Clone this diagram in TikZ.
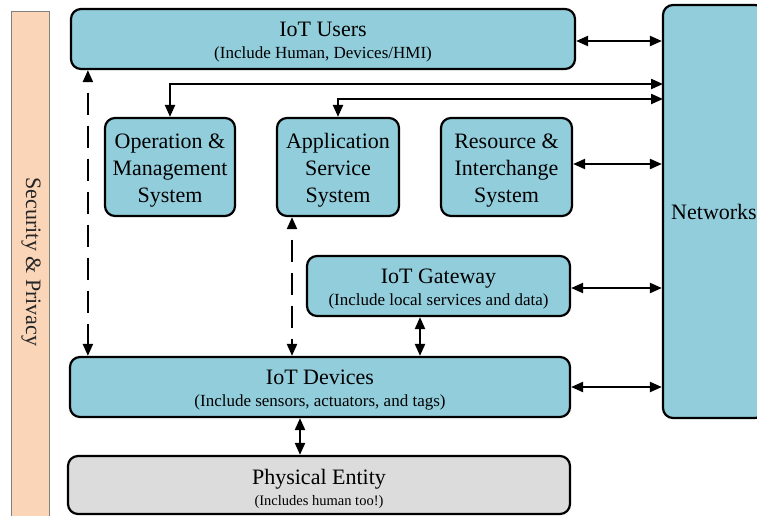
\documentclass[tikz,border=0pt]{standalone}
\usepackage{fontspec}
\setmainfont{Liberation Serif}
\usetikzlibrary{arrows.meta}
\definecolor{boxblue}{HTML}{92CDDC}
\definecolor{entitygray}{HTML}{DCDCDC}
\definecolor{secfill}{HTML}{FBD5B8}
\definecolor{secline}{HTML}{808080}
% one line of box text, drawn a little lower than its layout position
\newcommand\boxline[1]{\raisebox{-3.5pt}[\height][\depth]{#1}}
\newcommand\subline[1]{\boxline{\fontsize{17}{21}\selectfont #1}}
\tikzset{
  box/.style={draw, line width=2.2pt, rounded corners=10pt, fill=boxblue,
    inner sep=0pt, align=center, font=\fontsize{22}{27}\selectfont},
  twoline/.style={box, font=\fontsize{22}{22}\selectfont},
  tip/.tip={Triangle[length=12pt,width=10pt]},
  link/.style={line width=2.2pt, tip-tip},
  dlink/.style={link, dash pattern=on 22pt off 11pt, dash phase=22pt},
}
\begin{document}
\begin{tikzpicture}[x=1pt,y=-1pt]
\clip (0,0) rectangle (757,515);
\fill[white] (0,0) rectangle (757,515);

% security and privacy band
\node[draw=secline, line width=0.8pt, fill=secfill, minimum width=38pt,
  minimum height=520pt, inner sep=0pt] (sec) at (30,271) {};
\node[rotate=-90, font=\fontsize{22}{22}\selectfont, text=black!85] (seclabel) at (31,262) {Security \& Privacy};

% networks
\node[box, minimum width=102pt, minimum height=413pt] (net) at (714,211.5) {Networks};

% layers
\node[twoline, minimum width=504pt, minimum height=60pt] (users) at (323,39)
  {\boxline{IoT Users}\\\subline{(Include Human, Devices/HMI)}};
\node[box, minimum width=130pt, minimum height=98pt] (op) at (170,167)
  {\boxline{Operation \&}\\\boxline{Management}\\\boxline{System}};
\node[box, minimum width=122pt, minimum height=98pt] (app) at (338,167)
  {\boxline{Application}\\\boxline{Service}\\\boxline{System}};
\node[box, minimum width=131pt, minimum height=98pt] (res) at (506.5,167)
  {\boxline{Resource \&}\\\boxline{Interchange}\\\boxline{System}};
\node[twoline, minimum width=263pt, minimum height=60pt] (gw) at (438.5,286)
  {\boxline{IoT Gateway}\\\subline{(Include local services and data)}};
\node[twoline, minimum width=500pt, minimum height=60pt] (dev) at (320,387)
  {\boxline{IoT Devices}\\\subline{(Include sensors, actuators, and tags)}};
\node[twoline, fill=entitygray, minimum width=502pt, minimum height=58pt] (phys) at (319,485)
  {\boxline{Physical Entity}\\[-1pt]\boxline{\fontsize{14.5}{18}\selectfont (Includes human too!)}};

% links to the networks
\coordinate (opnet) at (663,84);
\coordinate (appnet) at (663,99);
\draw[link] (users.east |- 0,41) -- (net.west |- 0,41);
\draw[link] (op.north) |- (opnet);
\draw[link] (app.north) |- (appnet);
\draw[link] (res.east |- 0,164) -- (net.west |- 0,164);
\draw[link] (gw.east |- 0,288) -- (net.west |- 0,288);
\draw[link] (dev.east) -- (dev.east -| net.west);

% vertical links
\draw[dlink] ([xshift=18pt]users.south west) -- ([xshift=18pt]users.south west |- dev.north);
\draw[dlink] ([xshift=-46pt]app.south) -- ([xshift=-46pt]app.south |- dev.north);
\draw[link] ([xshift=-18.5pt]gw.south) -- ([xshift=-18.5pt]gw.south |- dev.north);
\draw[link] ([xshift=-20pt]dev.south) -- ([xshift=-20pt]dev.south |- phys.north);
\end{tikzpicture}
\end{document}
